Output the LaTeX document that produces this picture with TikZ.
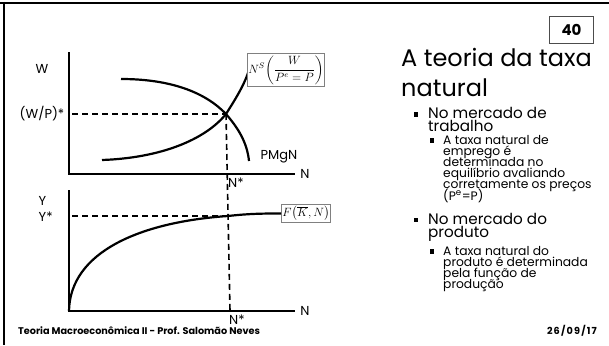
\documentclass[tikz,border=0pt]{standalone}
\usepackage{fontspec}
\setmainfont{Poppins}
\usepackage{amsmath}
\newcommand\mytightlines{\lineskiplimit=-50pt\relax\lineskip=0pt\relax}
\begin{document}
\begin{tikzpicture}[x=1pt,y=-1pt,
  axis/.style={line width=2.4pt, line join=miter},
  curve/.style={line width=2.2pt},
  guide/.style={line width=1.6pt, dash pattern=on 6pt off 4pt},
  lbl/.style={font=\fontsize{13}{13}\selectfont, inner sep=0pt},
  mbox/.style={draw=gray, line width=0.8pt, fill=white, inner sep=1pt, font=\fontsize{12}{14}\selectfont},
  bul/.style={fill=black, inner sep=0pt, minimum size=4.6pt},
  para/.style={inner sep=0pt, anchor=north west, align=left},
  ttl/.style={para, font={\fontsize{24}{30}\selectfont\mytightlines}},
  lvone/.style={para, font={\fontsize{15.2}{13.2}\selectfont\mytightlines}},
  lvtwo/.style={para, font={\fontsize{12.3}{11}\selectfont\mytightlines}},
  foot/.style={font=\bfseries\fontsize{9.7}{10}\selectfont, inner sep=0pt, anchor=base west},
]
\useasboundingbox (0,0) rectangle (609,345);
% slide frame
\draw[line width=2.5pt] (0,3) -- (609,3);
\draw[line width=2.5pt] (4,1.8) -- (4,345);

% ---------- top graph ----------
\coordinate (o1) at (69,174);
\coordinate (t1) at (69,52);
\coordinate (r1) at (295,174);
\draw[axis] (t1) -- (o1) -- (r1);
\coordinate (E) at (226,114);
\coordinate (h1) at (72,114);
\coordinate (d0) at (121,79);
\coordinate (d1) at (249,161);
\coordinate (s0) at (102,160);
\coordinate (s1) at (251,58);
\draw[curve] (d0) .. controls (170,79) and (205,92) .. (E) .. controls (238,128) and (247,142) .. (d1);
\draw[curve] (s0) .. controls (160,158) and (205,140) .. (E) .. controls (240,92) and (250,75) .. (s1);
\node[lbl] (W) at (42,69) {W};
\node[lbl] (WP) at (42,114) {(W/P)*};
\node[lbl] (PM) at (279,157) {PMgN};
\node[lbl] (N1) at (305,174) {N};
\node[lbl, anchor=west] (Ns1) at (228,183) {N*};
\node[mbox, minimum width=64pt, minimum height=33pt] (NS) at (286,70) {$N^S\!\left(\dfrac{W}{P^e=P}\right)$};

% ---------- bottom graph ----------
\coordinate (o2) at (69,311);
\coordinate (t2) at (69,190);
\coordinate (r2) at (295,311);
\draw[axis] (t2) -- (o2) -- (r2);
\coordinate (E2) at (228,216);
\coordinate (h2) at (72,216);
\coordinate (v2) at (230,311);
\node[mbox, minimum width=44pt, minimum height=18pt] (F) at (306,213.5) {$F\!\left(\overline{K},N\right)$};
\draw[curve] (o2) .. controls (70,252) and (140,222) .. (E2) .. controls (250,213.5) and (265,213.5) .. (F.west);
\node[lbl, anchor=west] (Y) at (38.5,201) {Y};
\node[lbl, anchor=west] (Ys) at (38.5,217) {Y*};
\node[lbl] (N2) at (305,311) {N};
\node[lbl, anchor=west] (Ns2) at (229,320) {N*};

% guides
\draw[guide] (h1) -- (E);
\draw[guide] (h2) -- (E2);
\draw[guide] (E) -- (v2);

% ---------- right side text ----------
\node[draw=black!70, line width=0.8pt, minimum width=44pt, minimum height=27pt, inner sep=0pt,
      font=\bfseries\fontsize{15}{15}\selectfont] (pg) at (571.5,29.5) {40};
\node[ttl] (title) at (401,48) {A teoria da taxa\\natural};

\node[bul] (b1) at (416,114.3) {};
\node[lvone] (a) at (428,107.1) {No mercado de\\trabalho};

\node[bul] (b2) at (432,140.6) {};
\node[lvtwo] (c) at (443,134.8) {A taxa natural de\\emprego é\\determinada no\\equilíbrio avaliando\\corretamente os preços\\[1.2pt](P\textsuperscript{e}=P)};

\node[bul] (b3) at (416,219.8) {};
\node[lvone] (a2) at (428,212.6) {No mercado do\\produto};

\node[bul] (b4) at (432,251.6) {};
\node[lvtwo] (e) at (443,245.8) {A taxa natural do\\produto é determinada\\pela função de\\produção};

% footer
\node[foot] (ft) at (18,334) {Teoria Macroeconômica II - Prof. Salomão Neves};
\node[foot, anchor=base east] (dt) at (597,334) {\addfontfeatures{LetterSpace=12}26/09/17};
\end{tikzpicture}
\end{document}
